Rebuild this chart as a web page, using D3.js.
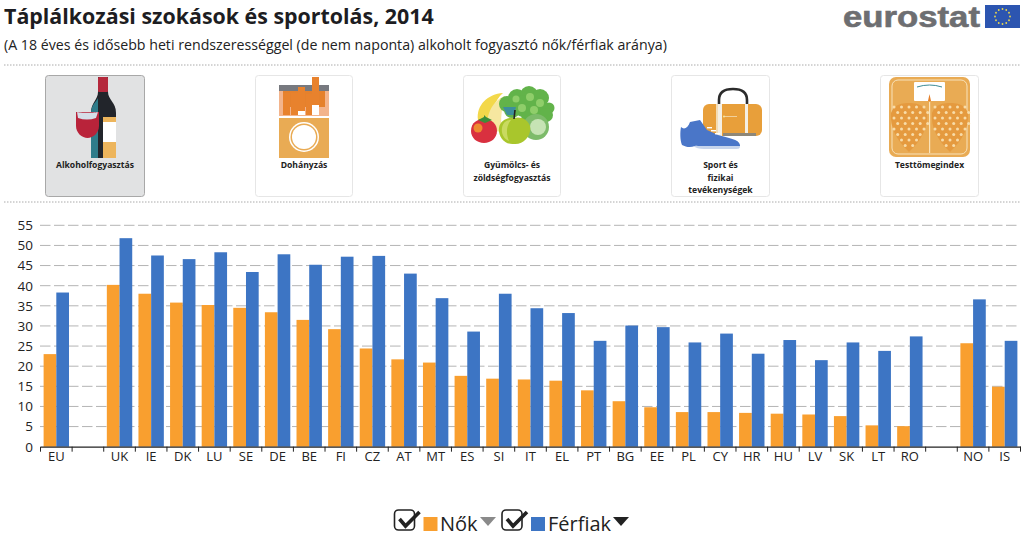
<!DOCTYPE html>
<html><head><meta charset="utf-8">
<script src="https://cdn.jsdelivr.net/npm/d3@7"></script>
<style>
html,body{margin:0;padding:0;background:#fff}
svg{display:block;font-family:"Open Sans",sans-serif}
</style></head><body><svg id="c" width="1024" height="547"></svg>
<script>
const categories=["EU"," ","UK","IE","DK","LU","SE","DE","BE","FI","CZ","AT","MT","ES","SI","IT","EL","PT","BG","EE","PL","CY","HR","HU","LV","SK","LT","RO","  ","NO","IS"];
const womenValues=[23,null,40.2,38,35.8,35.2,34.5,33.4,31.5,29.2,24.4,21.7,20.9,17.6,16.9,16.7,16.4,14,11.3,9.8,8.6,8.6,8.4,8.2,8,7.6,5.3,5.1,null,25.7,14.9];
const menValues=[38.3,null,51.8,47.5,46.6,48.3,43.4,47.8,45.2,47.2,47.4,43,36.9,28.6,38,34.4,33.2,26.3,30.1,29.7,25.9,28.1,23.1,26.5,21.5,25.9,23.8,27.4,null,36.6,26.3];
const yTicks=[0,5,10,15,20,25,30,35,40,45,50,55];
const titleText="Táplálkozási szokások és sportolás, 2014";
const subtitleText="(A 18 éves és idősebb heti rendszerességgel (de nem naponta) alkoholt fogyasztó nők/férfiak aránya)";
const cardLabels=[["Alkoholfogyasztás"],["Dohányzás"],["Gyümölcs- és","zöldségfogyasztás"],["Sport és","fizikai","tevékenységek"],["Testtömegindex"]];

const svg=d3.select("#c");
const ORANGE="#f99f2f",BLUE="#3d75c4",INK="#1d1d22";
const x=d3.scaleBand().domain(categories).range([40.5,1020.5]);
const y=d3.scaleLinear().domain([0,55]).range([446.7,225.3]);
const xs=d3.scaleBand().domain([0,1]).range([0,x.bandwidth()]).paddingOuter(0.245).paddingInner(0);

svg.append("text").attr("x",4).attr("y",24).attr("font-size",21.4).attr("font-weight",700).attr("fill",INK).text(titleText);
svg.append("text").attr("x",4).attr("y",50).attr("font-size",14.2).attr("fill","#222").text(subtitleText);

[65,202].forEach(v=>svg.append("line").attr("x1",4).attr("x2",1021).attr("y1",v).attr("y2",v)
  .attr("stroke","#aaa").attr("stroke-width",1).attr("stroke-dasharray","1.5 1.5"));

/* logo */
svg.append("text").attr("x",843).attr("y",27).attr("font-family","Liberation Sans").attr("font-weight",700)
  .attr("font-size",29.5).attr("textLength",137).attr("lengthAdjust","spacingAndGlyphs").attr("fill","#6d6e71").attr("stroke","#6d6e71").attr("stroke-width",.6).text("eurostat");
svg.append("rect").attr("x",985).attr("y",5).attr("width",35).attr("height",23).attr("fill","#2c55b0");
d3.range(12).forEach(i=>{const a=i/12*2*Math.PI;
  svg.append("circle").attr("cx",1002.5+7.5*Math.cos(a)).attr("cy",16.5+7.5*Math.sin(a)).attr("r",.9).attr("fill","#ecd94a");});

/* cards */
const cardX=[45,255,463,671,880],cardW=[100,98,98,99,99];
cardX.forEach((cx,i)=>{
  const g=svg.append("g").attr("transform",`translate(${cx},75)`);
  g.append("rect").attr("x",.5).attr("y",.5).attr("width",cardW[i]-1).attr("height",121).attr("rx",3)
    .attr("fill",i==0?"#e1e2e3":"#fff").attr("stroke",i==0?"#a8a8a8":"#e6e6e6").attr("stroke-width",1);
  cardLabels[i].forEach((t,j)=>g.append("text").attr("x",cardW[i]/2).attr("y",93+j*12.6).attr("text-anchor","middle")
    .attr("font-size",8.6).attr("font-weight",700).attr("fill","#222").text(t));
});
function P(g,d,f){return g.append("path").attr("d",d).attr("fill",f);}
function R(g,a,b,w,h,f,r){return g.append("rect").attr("x",a).attr("y",b).attr("width",w).attr("height",h).attr("fill",f).attr("rx",r||0);}
function C(g,a,b,r,f){return g.append("circle").attr("cx",a).attr("cy",b).attr("r",r).attr("fill",f);}
/* wine */
{const g=svg.append("g");
 P(g,"M98 77H108V92C108 100 116 102 116 113V158H91V113C91 102 98 100 98 92Z","#22252b");
 R(g,98,77,10,15,"#b5283c",1);
 P(g,"M91 113C91 105 96 102 98 98V158H91Z","#2f7c8a");
 R(g,103,117,13,41,"#edb55c");R(g,103,122,13,20,"#fff");
 P(g,"M76 112H99V126C99 133 93 138 87.5 138C82 138 76 133 76 126Z","#b9233a");
 P(g,"M77 112C79 113 96 113 98 112L96 118C90 120 84 120 78 118Z","#d5dee8");
 }
/* cigarettes */
{const g=svg.append("g");
 R(g,279,85,50,31,"#f3b48c");R(g,279,85,50,6,"#77797f");R(g,283,91,42,16,"#e5812c");
 [[283,93,7],[291,93,7],[298,87,7],[306,94,6],[312,77,7]].forEach(d=>{R(g,d[0],d[1],d[2],115-d[1],"#e8822d");R(g,d[0],Math.max(d[1]+24,105),d[2],115-Math.max(d[1]+24,105),"#fff");});
 R(g,279,118,50,40,"#e9ab54");C(g,304,137,15,"#fff");C(g,304,137,13.5,"#e9ab54");C(g,304,137,12,"#fff");}
/* fruit */
{const g=svg.append("g");
 P(g,"M478 120C476 105 488 94 503 93C495 100 490 112 491 128L482 128Z","#f3d84a");
 P(g,"M487 130C486 112 494 100 505 96C502 108 500 118 502 132Z","#f6e7a0");
 [[507,104,8],[517,98,9],[529,95,9],[540,98,9],[549,108,5.5],[512,110,8],[524,106,11],[537,108,11],[546,115,7],[530,115,9],[542,122,6]].forEach(d=>C(g,d[0],d[1],d[2],"#62b34a"));
 [[516,99,3.5],[530,97,4],[540,103,4],[522,108,4],[534,110,4]].forEach(d=>C(g,d[0],d[1],d[2],"#8fce6a"));
 P(g,"M503 107H516L514 115H507Z","#3d8f9c");
 C(g,536,127,13,"#7dbb6a");C(g,538,127,8,"#c6e3b4");
 P(g,"M499 128C500 120 508 117 514 118C520 116 528 119 530 126C532 135 524 145 514 144C504 145 498 136 499 128Z","#a9c62c");
 P(g,"M502 128C503 122 507 120 511 120C506 126 506 134 509 141C504 139 501 134 502 128Z","#c9da60");
 g.append("path").attr("d","M514 119L515 110").attr("stroke","#222").attr("stroke-width",1.6);
 P(g,"M471 131C471 122 478 119 484 119C492 119 497 124 497 131C497 138 491 143 484 143C477 143 471 138 471 131Z","#d9303f");
 C(g,478,128,4.5,"#ee8a30");
 P(g,"M478 120L484 117L484 115L486 117L492 120L485 123Z","#3c8d3a");}
/* bag & shoe */
{const g=svg.append("g");
 g.append("path").attr("d","M719 106V100C719 93 724 89 733 89C742 89 747 93 747 100V106").attr("fill","none").attr("stroke","#2b2b2b").attr("stroke-width",2.6);
 R(g,703,104,59,32,"#e89f3a",6);
 R(g,716,104,2,32,"#f3dcb4");R(g,718,104,4,32,"#f4efe4");R(g,745,104,3,32,"#f4efe4");
 R(g,723,133,33,3,"#8e8778");
 R(g,724,116,13,.8,"#f3dcb4");C(g,724,116.5,1,"#f8e6a0");
 P(g,"M690 122L700 120L707 130L718 135C728 138 739 139 740 145V146H706C703 148 698 145 695 146C690 148 686 147 682 145C680 140 680 132 681 127C684 130 688 128 690 122Z","#4a76c8");
 [[707,127],[711,130],[715,133]].forEach(d=>R(g,d[0],d[1],5,1.4,"#fff"));
 P(g,"M693 146H740C740 149 738 149 735 149H704C699 149 696 148 693 146Z","#c6d4ec");}
/* scale */
{const g=svg.append("g");
 R(g,889,77,81,80,"#e9ab54",7);
 g.append("rect").attr("x",892).attr("y",80).attr("width",75).attr("height",74).attr("rx",6).attr("fill","none").attr("stroke","#f8e2ba").attr("stroke-width",1);
 R(g,914,82,31,19,"#fff",1);
 g.append("path").attr("d","M917 87Q929.5 83 942 87").attr("fill","none").attr("stroke","#3d8c96").attr("stroke-width",1);
 P(g,"M928 101L929.5 94L931 101Z","#e5812c");
 R(g,929,102,1.2,51,"#fbe3b8");
 [[909,127],[950,127]].forEach(c=>{
   P(g,`M${c[0]-18} ${c[1]-14}Q${c[0]-14} ${c[1]-25} ${c[0]} ${c[1]-24}Q${c[0]+14} ${c[1]-25} ${c[0]+18} ${c[1]-14}Q${c[0]+20} ${c[1]+6} ${c[0]} ${c[1]+25}Q${c[0]-20} ${c[1]+6} ${c[0]-18} ${c[1]-14}Z`,"#e59a3f");
   d3.range(-20,24,5.5).forEach((b,k)=>d3.range(-15,16,7.5).forEach(a=>{ const ax=a+(k%2?3.7:0); if(Math.abs(ax)+Math.max(0,b)*0.6<19) C(g,c[0]+ax,c[1]+b,1.5,"#f8dca8");}));
 });}

/* grid */
const grid=svg.append("g");
grid.selectAll("line").data(yTicks.slice(1)).join("line")
  .attr("x1",40).attr("x2",1020).attr("y1",d=>y(d)).attr("y2",d=>y(d))
  .attr("stroke","#b4b4b4").attr("stroke-width",1).attr("stroke-dasharray","10.5 3.5");

/* bars */
const rows=categories.map((c,i)=>({c,w:womenValues[i],m:menValues[i]})).filter(d=>d.w!=null);
const W=svg.append("g"),M=svg.append("g");
W.selectAll("rect").data(rows).join("rect").attr("x",d=>x(d.c)+xs(0)).attr("width",xs.bandwidth())
  .attr("y",d=>y(d.w)).attr("height",d=>y(0)-y(d.w)).attr("fill",ORANGE);
M.selectAll("rect").data(rows).join("rect").attr("x",d=>x(d.c)+xs(1)).attr("width",xs.bandwidth())
  .attr("y",d=>y(d.m)).attr("height",d=>y(0)-y(d.m)).attr("fill",BLUE);

/* axes */
const yAxis=svg.append("g").attr("transform","translate(33,0)").call(d3.axisLeft(y).tickValues(yTicks).tickSize(0).tickPadding(0));
yAxis.select(".domain").remove();
yAxis.selectAll("text").attr("font-family","Open Sans").attr("font-size",13.5).attr("fill","#222");
const xAxis=svg.append("g").attr("transform",`translate(0,${y(0)})`).call(d3.axisBottom(x).tickSize(0).tickPadding(5));
xAxis.select(".domain").attr("stroke","#222").attr("stroke-width",1.2);
xAxis.selectAll("text").attr("font-family","Open Sans").attr("font-size",13).attr("fill","#222");
const edges=categories.map(c=>x(c)).concat([x.range()[1]]);
svg.append("g").selectAll("line").data(edges).join("line").attr("x1",d=>d).attr("x2",d=>d)
  .attr("y1",y(0)).attr("y2",y(0)+5).attr("stroke","#222").attr("stroke-width",1);

/* legend */
function legend(cx,color,label,tri,lx,triX){
  const g=svg.append("g");
  g.append("rect").attr("x",cx).attr("y",510).attr("width",20).attr("height",20).attr("rx",4).attr("fill","none").attr("stroke","#222").attr("stroke-width",1.6);
  g.append("path").attr("d",`M${cx+5} ${519}L${cx+11} ${526}L${cx+25} ${512}`).attr("fill","none").attr("stroke","#222").attr("stroke-width",3.6);
  g.append("rect").attr("x",cx+29).attr("y",517).attr("width",14).attr("height",14).attr("fill",color);
  g.append("text").attr("x",lx).attr("y",531).attr("font-size",20).attr("fill","#222").text(label);
  g.append("path").attr("d",`M${triX} 517H${triX+16}L${triX+8} 526Z`).attr("fill",tri);
}
legend(394.5,ORANGE,"Nők","#8a8a8a",440,480);
legend(502,BLUE,"Férfiak","#222",548,613);
</script></body></html>
